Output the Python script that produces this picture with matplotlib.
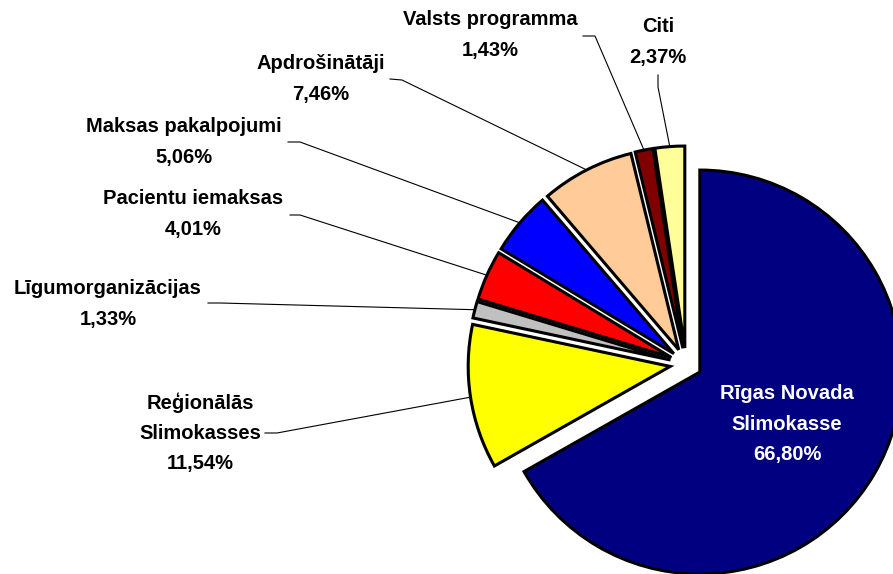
import numpy as np
import matplotlib
matplotlib.use("Agg")
import matplotlib.pyplot as plt

# slices, clockwise from the top
labels = ["Rīgas Novada\nSlimokasse", "Reģionālās\nSlimokasses", "Līgumorganizācijas",
          "Pacientu iemaksas", "Maksas pakalpojumi", "Apdrošinātāji",
          "Valsts programma", "Citi"]
shares = [66.80, 11.54, 1.33, 4.01, 5.06, 7.46, 1.43, 2.37]
colors = ["#000080", "#FFFF00", "#C0C0C0", "#FF0000", "#0000FF", "#FFCC99",
          "#800000", "#FFFF99"]

# label placement (axes in pixel units, y up): text centre, leader stub start, stub end
text_pos = [(787, 150), (200, 141), (108, 270), (193, 360), (184, 432),
            (321, 495), (490, 539), (658, 532)]
stubs = [None, ((265, 141), (277, 141)), ((208, 271), (220, 271)),
         ((290, 359), (300, 359)), ((288, 432), (300, 432)),
         ((390, 495), (402, 494)), ((583, 538), (595, 538)),
         ((658, 499), (658, 487))]

plt.rcParams['font.family'] = ['Liberation Sans', 'DejaVu Sans']

fig = plt.figure(figsize=(8.93, 5.74), dpi=100)
ax = fig.add_axes([0, 0, 1, 1])

# explode is in data units here (pixels)
wedges, _ = ax.pie(shares, colors=colors, startangle=90, counterclock=False,
                   explode=[16] * len(shares), center=(686, 210), radius=202,
                   wedgeprops=dict(edgecolor="black", linewidth=2.2))

ax.set_xlim(0, 893)
ax.set_ylim(0, 574)
ax.set_aspect("equal")
ax.axis("off")

for i, w in enumerate(wedges):
    txt = labels[i] + "\n" + ("%.2f" % shares[i]).replace(".", ",") + "%"
    tx, ty = text_pos[i]
    col = "white" if i == 0 else "black"
    ax.text(tx, ty, txt, ha="center", va="center", fontsize=14.5, fontweight="bold",
            color=col, linespacing=1.75)
    if stubs[i] is None:
        continue
    # leader goes to the rim at the middle of the slice
    th = np.deg2rad((w.theta1 + w.theta2) / 2)
    rx = w.center[0] + w.r * np.cos(th)
    ry = w.center[1] + w.r * np.sin(th)
    (x0, y0), (x1, y1) = stubs[i]
    ax.plot([x0, x1, rx], [y0, y1, ry], color="black", lw=0.8)

fig.savefig("out.png", dpi=100)
